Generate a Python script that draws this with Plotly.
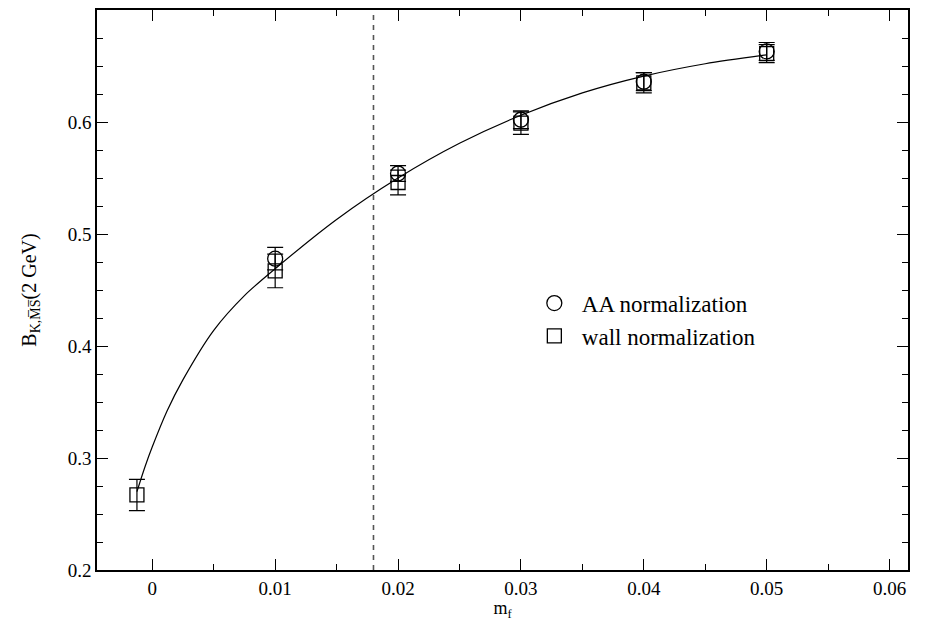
import plotly.graph_objects as go

# Data
mf_aa = [0.01, 0.02, 0.03, 0.04, 0.05]
bk_aa = [0.478, 0.554, 0.602, 0.636, 0.663]
err_aa = [0.010, 0.007, 0.008, 0.008, 0.008]

mf_wall = [-0.00125, 0.01, 0.02, 0.03, 0.04, 0.05]
bk_wall = [0.267, 0.467, 0.546, 0.599, 0.635, 0.661]
err_wall = [0.014, 0.015, 0.011, 0.010, 0.009, 0.008]

fit_x = [-0.00125, -0.0006, 0.0, 0.0012, 0.0025, 0.005, 0.0075, 0.01, 0.015, 0.02, 0.025, 0.03, 0.035, 0.04, 0.045, 0.05]
fit_y = [0.270, 0.292, 0.310, 0.342, 0.370, 0.414, 0.445, 0.469, 0.513, 0.550, 0.581, 0.606, 0.626, 0.641, 0.652, 0.660]

m_line = 0.018
x_range = [-0.0045, 0.0615]
y_range = [0.2, 0.7]
x_ticks = [0, 0.01, 0.02, 0.03, 0.04, 0.05, 0.06]
x_labels = ["0", "0.01", "0.02", "0.03", "0.04", "0.05", "0.06"]
y_ticks = [0.2, 0.3, 0.4, 0.5, 0.6]
y_labels = ["0.2", "0.3", "0.4", "0.5", "0.6"]

FONT = "Liberation Serif"

fig = go.Figure()
fig.add_trace(go.Scatter(x=fit_x, y=fit_y, mode="lines",
                         line=dict(color="black", width=1.2, shape="spline", smoothing=0.8),
                         showlegend=False, hoverinfo="skip"))
fig.add_trace(go.Scatter(x=[m_line, m_line], y=y_range, mode="lines",
                         line=dict(color="#555555", width=1.6, dash="5px,5px"), showlegend=False))
fig.add_trace(go.Scatter(x=mf_aa, y=bk_aa, mode="markers", name="AA normalization",
                         marker=dict(symbol="circle-open", size=15, color="black", line=dict(width=1.3)),
                         error_y=dict(type="data", array=err_aa, color="black", thickness=1.2, width=8)))
fig.add_trace(go.Scatter(x=mf_wall, y=bk_wall, mode="markers", name="wall normalization",
                         marker=dict(symbol="square-open", size=14, color="black", line=dict(width=1.3)),
                         error_y=dict(type="data", array=err_wall, color="black", thickness=1.2, width=8)))

axis_common = dict(showline=True, linecolor="black", linewidth=1.6, mirror="ticks", ticks="inside",
                   ticklen=11, tickwidth=1.3, tickcolor="black", showgrid=False, zeroline=False,
                   tickfont=dict(family=FONT, size=19, color="black"))
fig.update_xaxes(range=x_range, tickvals=x_ticks, ticktext=x_labels,
                 minor=dict(dtick=0.005, tick0=0, ticks="inside", ticklen=6, tickcolor="black", tickwidth=1.2),
                 title=dict(text="m<sub>f</sub>", font=dict(family=FONT, size=18, color="black"), standoff=2),
                 **axis_common)
fig.update_yaxes(range=y_range, tickvals=y_ticks, ticktext=y_labels,
                 minor=dict(dtick=0.025, tick0=0.2, ticks="inside", ticklen=6, tickcolor="black", tickwidth=1.2),
                 title=dict(text="B<sub>K,M\u0305S\u0305</sub>(2 GeV)", font=dict(family=FONT, size=20, color="black"), standoff=26),
                 **axis_common)

fig.update_layout(width=928, height=621, margin=dict(l=97, r=20, t=8, b=50),
                  paper_bgcolor="white", plot_bgcolor="white",
                  legend=dict(x=0.53, y=0.515, xanchor="left", yanchor="top", bgcolor="rgba(0,0,0,0)",
                              font=dict(family=FONT, size=23, color="black"), itemwidth=45, tracegroupgap=0),
                  showlegend=True)

fig.write_html("out.html")
